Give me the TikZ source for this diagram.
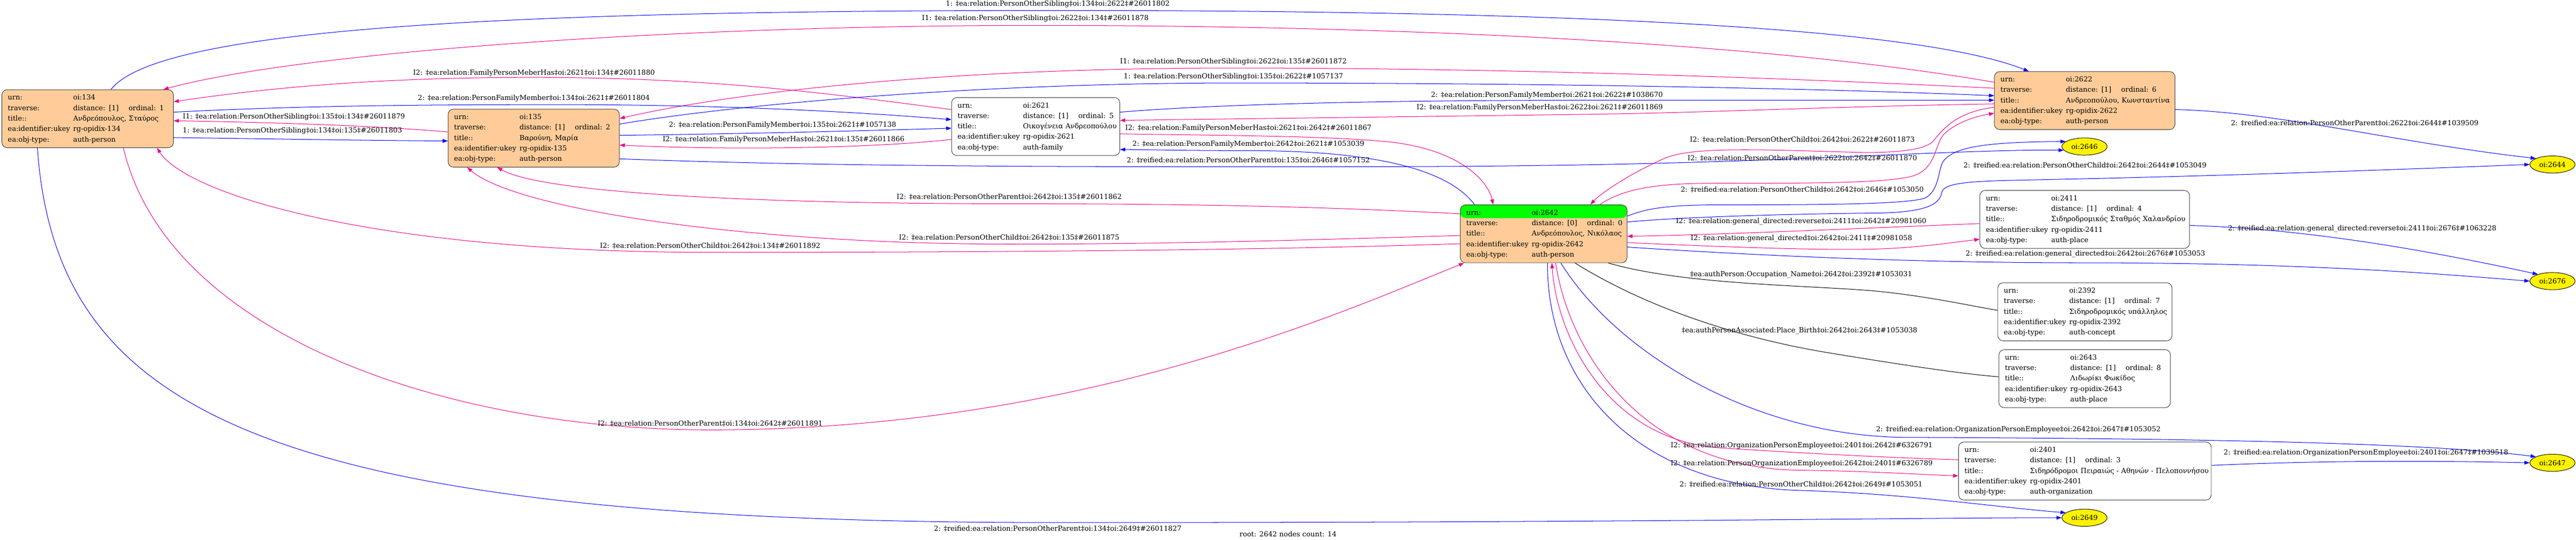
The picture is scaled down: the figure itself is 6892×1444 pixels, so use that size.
\documentclass[tikz,border=0pt]{standalone}
\usepackage{fontspec}
\setmainfont{DejaVu Serif}
\usetikzlibrary{arrows.meta,shapes.geometric}
\definecolor{peach}{RGB}{255,204,153}
\definecolor{boxline}{RGB}{55,55,55}
\newcommand{\nfont}{\fontsize{18.67}{28}\selectfont}
\newcommand{\recbody}[5]{%
\begin{tabular}{@{}l@{}}
\makebox[175pt][l]{urn:}oi:#1\\
\makebox[175pt][l]{traverse:}\makebox[148pt][l]{distance: [#2]}ordinal: #3\\
\makebox[175pt][l]{title::}#4\\
\makebox[175pt][l]{ea:identifier:ukey}rg-opidix-#1\\
\makebox[175pt][l]{ea:obj-type:}#5
\end{tabular}}
\tikzset{
  recbox/.style={draw=boxline, line width=1.3pt, rounded corners=14pt, inner xsep=16pt, inner ysep=0pt, minimum height=155pt, align=left, font=\nfont},
  pbox/.style={recbox, fill=peach},
  wbox/.style={recbox, fill=white},
  ell/.style={ellipse, draw=black, line width=1.3pt, fill=yellow, minimum width=121pt, minimum height=46pt, inner sep=0pt, font=\nfont},
  bluee/.style={draw=blue, line width=1.4pt, -{Triangle[length=14pt,width=10pt]}},
  mage/.style={draw=magenta, line width=1.4pt, -{Triangle[length=14pt,width=10pt]}},
  blke/.style={draw=black, line width=1.4pt},
  lbl/.style={font=\nfont, inner sep=0pt},
}
\begin{document}
\begin{tikzpicture}[x=1pt,y=-1pt]
\useasboundingbox (0,0) rectangle (6892,1444);
\fill[white] (0,0) rectangle (6892,1444);
% nodes
\node[pbox, text width=427pt] (n134) at (234.5,317.5) {\recbody{134}{1}{1}{Ανδρεόπουλος, Σταύρος}{auth-person}};
\node[pbox, text width=426pt] (n135) at (1428,369.5) {\recbody{135}{1}{2}{Βαρούνη, Μαρία}{auth-person}};
\node[wbox, text width=418pt] (n2621) at (2771,338.5) {\recbody{2621}{1}{5}{Οικογένεια Ανδρεοπούλου}{auth-family}};
\node[pbox, text width=451pt] (n2622) at (5577.5,269) {\recbody{2622}{1}{6}{Ανδρεοπούλου, Κωνσταντίνα}{auth-person}};
\node[pbox, text width=414pt, path picture={\fill[green] (path picture bounding box.north west) rectangle ([yshift=-35.5pt]path picture bounding box.north east);}] (n2642) at (4130,625.5) {\recbody{2642}{0}{0}{Ανδρεόπουλος, Νικόλαος}{auth-person}};
\node[wbox, text width=529pt] (n2411) at (5577.5,587) {\recbody{2411}{1}{4}{Σιδηροδρομικός Σταθμός Χαλανδρίου}{auth-place}};
\node[wbox, text width=434pt] (n2392) at (5578,834) {\recbody{2392}{1}{7}{Σιδηροδρομικός υπάλληλος}{auth-concept}};
\node[wbox, text width=427pt] (n2643) at (5577.5,1013) {\recbody{2643}{1}{8}{Λιδωρίκι Φωκίδος}{auth-place}};
\node[wbox, text width=644pt] (n2401) at (5578,1260) {\recbody{2401}{1}{3}{Σιδηρόδρομοι Πειραιώς - Αθηνών - Πελοποννήσου}{auth-organization}};
\node[ell] (e2646) at (5577,392) {oi:2646};
\node[ell] (e2649) at (5577,1385) {oi:2649};
\node[ell] (e2644) at (6829,440) {oi:2644};
\node[ell] (e2676) at (6829,752) {oi:2676};
\node[ell] (e2647) at (6829,1238) {oi:2647};
% edges
\draw[bluee] (297,0 |- n134.north) .. controls (420,80) and (1300,28) .. (2830,28) .. controls (4300,28) and (5150,80) .. (5428,0 |- n2622.north);
\draw[mage] (n2622.west |- 0,220) .. controls (4700,110) and (3700,68) .. (2770,68) .. controls (1800,68) and (800,140) .. (437,0 |- n134.north);
\draw[mage] (n2621.west |- 0,293) .. controls (2200,248) and (1900,207) .. (1420,207) .. controls (950,207) and (650,245) .. (n134.east |- 0,272);
\draw[mage] (n2622.west |- 0,236) .. controls (4600,200) and (3900,182) .. (3300,182) .. controls (2500,182) and (1950,250) .. (n135.east |- 0,317);
\draw[bluee] (n135.east |- 0,332) .. controls (1950,282) and (2600,222) .. (3300,222) .. controls (4200,222) and (4900,238) .. (n2622.west |- 0,256);
\draw[bluee] (n134.east |- 0,300) .. controls (800,283) and (1100,280) .. (1500,280) .. controls (1950,280) and (2300,300) .. (n2621.west |- 0,320);
\draw[mage] (n135.west |- 0,353) .. controls (1000,336) and (750,328) .. (n134.east |- 0,323);
\draw[bluee] (n134.east |- 0,368) .. controls (750,372) and (1000,376) .. (n135.west |- 0,377);
\draw[bluee] (n135.east |- 0,362) .. controls (2000,358) and (2300,350) .. (n2621.west |- 0,343);
\draw[mage] (n2621.west |- 0,373) .. controls (2300,400) and (1900,400) .. (n135.east |- 0,388);
\draw[bluee] (n2621.east |- 0,300) .. controls (3300,275) and (3800,268) .. (4300,268) .. controls (4800,268) and (5100,268) .. (n2622.west |- 0,268);
\draw[mage] (n2622.west |- 0,278) .. controls (4900,285) and (4600,300) .. (4300,305) .. controls (3800,312) and (3300,318) .. (n2621.east |- 0,322);
\draw[bluee] (3945,0 |- n2642.north) .. controls (3880,460) and (3700,403) .. (3340,403) .. controls (3150,403) and (3060,400) .. (n2621.east |- 0,400);
\draw[mage] (n2621.east |- 0,358) .. controls (3200,362) and (3550,362) .. (3720,380) .. controls (3900,400) and (3980,480) .. (3995,0 |- n2642.north);
\draw[bluee] (n135.east |- 0,425) .. controls (2200,445) and (2800,446) .. (3340,446) .. controls (3900,446) and (4250,446) .. (4800,425) .. controls (5100,413) and (5350,400) .. (e2646.190);
\draw[mage] (n2642.west |- 0,572) .. controls (3500,550) and (3100,545) .. (2700,545) .. controls (2000,545) and (1450,515) .. (1330,0 |- n135.south);
\draw[mage] (n2642.west |- 0,630) .. controls (3400,645) and (3100,653) .. (2700,653) .. controls (2000,653) and (1380,560) .. (1250,0 |- n135.south);
\draw[mage] (n2642.west |- 0,652) .. controls (3300,672) and (2500,675) .. (1900,675) .. controls (1000,675) and (500,520) .. (420,0 |- n134.south);
\draw[mage] (330,0 |- n134.south) .. controls (450,900) and (1200,1150) .. (1900,1150) .. controls (2900,1150) and (3600,830) .. (3917,0 |- n2642.south);
\draw[bluee] (100,0 |- n134.south) .. controls (150,1100) and (700,1398) .. (2830,1398) .. controls (4400,1398) and (5100,1385) .. (e2649.west);
% 2642 <-> 2622
\draw[mage] (n2622.west |- 0,287) .. controls (5230,300) and (5195,350) .. (5170,380) .. controls (5140,405) and (5050,410) .. (4951,407) .. controls (4700,400) and (4520,392) .. (4450,425) .. controls (4350,470) and (4280,520) .. (4255,0 |- n2642.north);
\draw[mage] (4280,0 |- n2642.north) .. controls (4350,500) and (4450,490) .. (4600,490) .. controls (4800,490) and (5050,492) .. (5120,470) .. controls (5180,450) and (5175,390) .. (5200,360) .. controls (5230,330) and (5280,312) .. (n2622.west |- 0,303);
% 2642 -> 2646, 2644
\draw[bluee] (n2642.east |- 0,578) .. controls (4400,560) and (4450,548) .. (4600,548) .. controls (4900,548) and (5100,546) .. (5150,530) .. controls (5190,510) and (5185,450) .. (5200,430) .. controls (5230,395) and (5300,380) .. (e2646.165);
\draw[bluee] (n2642.east |- 0,594) .. controls (4500,580) and (4800,572) .. (5021,570) .. controls (5170,568) and (5190,540) .. (5195,515) .. controls (5200,492) and (5250,485) .. (5400,482) .. controls (6000,470) and (6500,450) .. (e2644.west);
\draw[mage] (n2411.west |- 0,598) .. controls (4950,612) and (4600,628) .. (n2642.east |- 0,632);
\draw[mage] (n2642.east |- 0,649) .. controls (4600,660) and (4900,672) .. (5050,665) .. controls (5150,660) and (5230,648) .. (n2411.west |- 0,640);
\draw[bluee] (n2642.east |- 0,661) .. controls (4800,690) and (5200,703) .. (5570,703) .. controls (6200,703) and (6550,735) .. (e2676.west);
\draw[bluee] (n2411.east |- 0,603) .. controls (6150,612) and (6450,660) .. (e2676.155);
\draw[bluee] (n2622.east |- 0,293) .. controls (6100,300) and (6400,380) .. (e2644.160);
\draw[blke] (4303,0 |- n2642.south) .. controls (4500,760) and (4800,762) .. (5000,777) .. controls (5150,790) and (5280,820) .. (n2392.west |- 0,830);
\draw[blke] (4214,0 |- n2642.south) .. controls (4400,820) and (4650,905) .. (4900,945) .. controls (5100,978) and (5250,1000) .. (n2643.west |- 0,1008);
\draw[bluee] (4176,0 |- n2642.south) .. controls (4330,950) and (4700,1168) .. (5100,1170) .. controls (5900,1173) and (6500,1185) .. (e2647.160);
\draw[bluee] (n2401.east |- 0,1245) .. controls (6200,1232) and (6500,1232) .. (e2647.west);
\draw[mage] (n2401.west |- 0,1230) .. controls (5000,1222) and (4820,1212) .. (4600,1198) .. controls (4300,1175) and (4165,900) .. (4152,0 |- n2642.south);
\draw[mage] (4162,0 |- n2642.south) .. controls (4200,950) and (4400,1255) .. (4820,1258) .. controls (5000,1260) and (5150,1270) .. (n2401.west |- 0,1273);
\draw[bluee] (4140,0 |- n2642.south) .. controls (4140,1050) and (4400,1300) .. (4815,1312) .. controls (5100,1320) and (5350,1358) .. (e2649.165);
% labels
\node[lbl] (l1) at (2830,11) {1: ‡ea:relation:PersonOtherSibling‡oi:134‡oi:2622‡\#26011802};
\node[lbl] (l2) at (2770,50) {I1: ‡ea:relation:PersonOtherSibling‡oi:2622‡oi:134‡\#26011878};
\node[lbl, anchor=west] (l3) at (1105,195) {I2: ‡ea:relation:FamilyPersonMeberHas‡oi:2621‡oi:134‡\#26011880};
\node[lbl] (l4) at (3300,165) {I1: ‡ea:relation:PersonOtherSibling‡oi:2622‡oi:135‡\#26011872};
\node[lbl] (l5) at (3300,205) {1: ‡ea:relation:PersonOtherSibling‡oi:135‡oi:2622‡\#1057137};
\node[lbl, anchor=west] (l6) at (1118,263) {2: ‡ea:relation:PersonFamilyMember‡oi:134‡oi:2621‡\#26011804};
\node[lbl, anchor=west] (l7) at (489,313) {I1: ‡ea:relation:PersonOtherSibling‡oi:135‡oi:134‡\#26011879};
\node[lbl, anchor=east] (l8) at (1076,350) {1: ‡ea:relation:PersonOtherSibling‡oi:134‡oi:135‡\#26011803};
\node[lbl, anchor=east] (l9) at (2398,335) {2: ‡ea:relation:PersonFamilyMember‡oi:135‡oi:2621‡\#1057138};
\node[lbl, anchor=east] (l10) at (2420,373) {I2: ‡ea:relation:FamilyPersonMeberHas‡oi:2621‡oi:135‡\#26011866};
\node[lbl, anchor=east] (l11) at (4449,255) {2: ‡ea:relation:PersonFamilyMember‡oi:2621‡oi:2622‡\#1038670};
\node[lbl, anchor=east] (l12) at (4449,288) {I2: ‡ea:relation:FamilyPersonMeberHas‡oi:2622‡oi:2621‡\#26011869};
\node[lbl] (l13) at (3340,386) {2: ‡ea:relation:PersonFamilyMember‡oi:2642‡oi:2621‡\#1053039};
\node[lbl] (l14) at (3340,343) {I2: ‡ea:relation:FamilyPersonMeberHas‡oi:2621‡oi:2642‡\#26011867};
\node[lbl] (l15) at (3340,428) {2: ‡reified:ea:relation:PersonOtherParent‡oi:135‡oi:2646‡\#1057152};
\node[lbl] (l16) at (2700,527) {I2: ‡ea:relation:PersonOtherParent‡oi:2642‡oi:135‡\#26011862};
\node[lbl] (l17) at (2700,635) {I2: ‡ea:relation:PersonOtherChild‡oi:2642‡oi:135‡\#26011875};
\node[lbl] (l18) at (1900,657) {I2: ‡ea:relation:PersonOtherChild‡oi:2642‡oi:134‡\#26011892};
\node[lbl] (l19) at (1900,1133) {I2: ‡ea:relation:PersonOtherParent‡oi:134‡oi:2642‡\#26011891};
\node[lbl] (l20) at (2830,1414) {2: ‡reified:ea:relation:PersonOtherParent‡oi:134‡oi:2649‡\#26011827};
\node[lbl] (l22) at (4822,373) {I2: ‡ea:relation:PersonOtherChild‡oi:2642‡oi:2622‡\#26011873};
\node[lbl] (l21) at (4822,423) {I2: ‡ea:relation:PersonOtherParent‡oi:2622‡oi:2642‡\#26011870};
\node[lbl] (l23) at (4822,507) {2: ‡reified:ea:relation:PersonOtherChild‡oi:2642‡oi:2646‡\#1053050};
\node[lbl, anchor=west] (l24) at (5253,442) {2: ‡reified:ea:relation:PersonOtherChild‡oi:2642‡oi:2644‡\#1053049};
\node[lbl, anchor=east] (l25) at (5154,592) {I2: ‡ea:relation:general\_directed:reverse‡oi:2411‡oi:2642‡\#20981060};
\node[lbl, anchor=east] (l26) at (5116,638) {I2: ‡ea:relation:general\_directed‡oi:2642‡oi:2411‡\#20981058};
\node[lbl, anchor=west] (l27) at (5259,680) {2: ‡reified:ea:relation:general\_directed‡oi:2642‡oi:2676‡\#1053053};
\node[lbl] (l28) at (6320,612) {2: ‡reified:ea:relation:general\_directed:reverse‡oi:2411‡oi:2676‡\#1063228};
\node[lbl] (l29) at (6300,330) {2: ‡reified:ea:relation:PersonOtherParent‡oi:2622‡oi:2644‡\#1039509};
\node[lbl, anchor=east] (l30) at (5116,735) {‡ea:authPerson:Occupation\_Name‡oi:2642‡oi:2392‡\#1053031};
\node[lbl, anchor=east] (l31) at (5130,885) {‡ea:authPersonAssociated:Place\_Birth‡oi:2642‡oi:2643‡\#1053038};
\node[lbl] (l32) at (5400,1150) {2: ‡reified:ea:relation:OrganizationPersonEmployee‡oi:2642‡oi:2647‡\#1053052};
\node[lbl] (l33) at (6330,1212) {2: ‡reified:ea:relation:OrganizationPersonEmployee‡oi:2401‡oi:2647‡\#1039518};
\node[lbl, anchor=east] (l34) at (5171,1192) {I2: ‡ea:relation:OrganizationPersonEmployee‡oi:2401‡oi:2642‡\#6326791};
\node[lbl, anchor=east] (l35) at (5171,1240) {I2: ‡ea:relation:PersonOrganizationEmployee‡oi:2642‡oi:2401‡\#6326789};
\node[lbl, anchor=east] (l36) at (5144,1295) {2: ‡reified:ea:relation:PersonOtherChild‡oi:2642‡oi:2649‡\#1053051};
\node[lbl] (cap) at (3446,1428) {root: 2642 nodes count: 14};
\end{tikzpicture}
\end{document}
